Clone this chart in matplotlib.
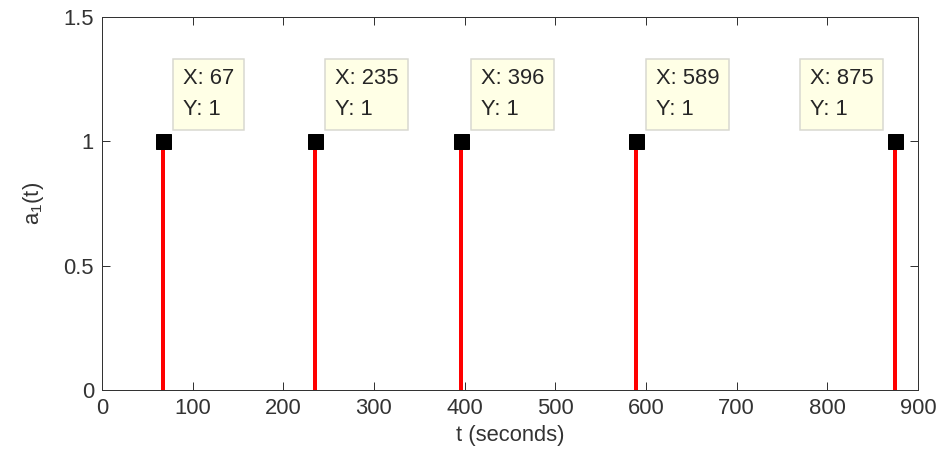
import matplotlib
matplotlib.use("Agg")
import matplotlib.pyplot as plt

# Data
event_times = [67, 235, 396, 589, 875]
event_values = [1, 1, 1, 1, 1]
x_ticks = [0, 100, 200, 300, 400, 500, 600, 700, 800, 900]
y_ticks = [0, 0.5, 1, 1.5]
y_tick_labels = ["0", "0.5", "1", "1.5"]

plt.rcParams['font.family'] = ['Liberation Sans', 'DejaVu Sans']
plt.rcParams['mathtext.fontset'] = 'custom'
plt.rcParams['mathtext.rm'] = 'Liberation Sans'
DPI = 72
fig = plt.figure(figsize=(942 / DPI, 468 / DPI), dpi=DPI)
ax = fig.add_axes([102 / 942, 78 / 468, 816 / 942, 373 / 468])

axcol = '#333333'
ax.vlines(event_times, 0, event_values, colors='#ff0000', linewidth=4, zorder=2)
ax.plot(event_times, event_values, 's', color='black', markersize=15, zorder=3)

for x, y in zip(event_times, event_values):
    txt = f"X: {x}\nY: {y}"
    if x > 800:
        off, ha = (-22, 21), 'right'
    else:
        off, ha = (20, 21), 'left'
    ax.annotate(txt, xy=(x, y), xytext=off, textcoords='offset points',
                ha=ha, va='bottom', multialignment='left', fontsize=22,
                color='#262626', linespacing=1.62,
                bbox=dict(boxstyle='square,pad=0.45', facecolor='#ffffe6',
                          edgecolor='#d8d8d0', linewidth=1.5), zorder=4)

ax.set_xlim(0, 900)
ax.set_ylim(0, 1.5)
ax.set_xticks(x_ticks)
ax.set_yticks(y_ticks)
ax.set_yticklabels(y_tick_labels)
ax.tick_params(direction='in', length=8, width=1, colors=axcol, labelsize=22,
               top=True, right=True, pad=8)
for s in ax.spines.values():
    s.set_color(axcol)
    s.set_linewidth(1)

ax.set_xlabel('t (seconds)', fontsize=22, color=axcol, labelpad=6)
ax.set_ylabel('a$_\\mathregular{1}$(t)', fontsize=22, color=axcol, labelpad=18)

fig.savefig('out.png', dpi=DPI)
